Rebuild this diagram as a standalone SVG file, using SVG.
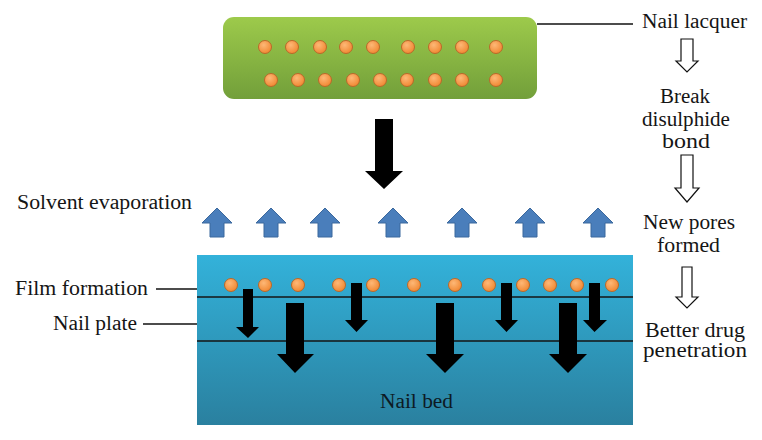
<svg xmlns="http://www.w3.org/2000/svg" width="762" height="440" viewBox="0 0 762 440">
<defs>
<linearGradient id="gGreen" x1="0" y1="0" x2="0" y2="1">
<stop offset="0" stop-color="#9dca4b"/>
<stop offset="1" stop-color="#729f3a"/>
</linearGradient>
<linearGradient id="gBlue" x1="0" y1="0" x2="0" y2="1">
<stop offset="0" stop-color="#33b2da"/>
<stop offset="1" stop-color="#2a809f"/>
</linearGradient>
<radialGradient id="gDot" cx="0.4" cy="0.35" r="0.7">
<stop offset="0" stop-color="#fdb877"/>
<stop offset="1" stop-color="#f0852e"/>
</radialGradient>
<circle id="dot" r="6.5" fill="url(#gDot)" stroke="#b8692a" stroke-width="1"/>
<path id="upArrow" d="M0,-15 L15,0 H7 V14 H-7 V0 H-15 Z" fill="#4a7ebb" stroke="#3b689d" stroke-width="1"/>
</defs>
<style>
.lead{stroke:#111;stroke-width:1.3;fill:none}
.layer{stroke:#141414;stroke-width:1.6}
.hollow{fill:#fff;stroke:#111;stroke-width:1.2}
.black{fill:#000}
</style>
<rect width="762" height="440" fill="#fff"/>

<g id="nail-lacquer-pad">
<rect x="223" y="17" width="314" height="82" rx="11" fill="url(#gGreen)"/>
<use href="#dot" x="265" y="47"/><use href="#dot" x="292" y="47"/><use href="#dot" x="320" y="47"/><use href="#dot" x="346" y="47"/><use href="#dot" x="373" y="47"/><use href="#dot" x="408" y="47"/><use href="#dot" x="435" y="47"/><use href="#dot" x="462" y="47"/><use href="#dot" x="496" y="47"/>
<use href="#dot" x="271" y="80"/><use href="#dot" x="298" y="80"/><use href="#dot" x="325" y="80"/><use href="#dot" x="353" y="80"/><use href="#dot" x="380" y="80"/><use href="#dot" x="407" y="80"/><use href="#dot" x="435" y="80"/><use href="#dot" x="462" y="80"/><use href="#dot" x="496" y="80"/>
</g>

<g id="nail-layers">
<rect x="197" y="255" width="436" height="170" fill="url(#gBlue)"/>
<line class="layer" x1="197" y1="297" x2="633" y2="297"/>
<line class="layer" x1="197" y1="341" x2="633" y2="341"/>
<text x="380" y="408" font-family="'Liberation Serif', serif" font-size="20" fill="#0d1a24" textLength="73" lengthAdjust="spacingAndGlyphs">Nail bed</text>
</g>

<g id="film-dots">
<use href="#dot" x="231" y="285"/><use href="#dot" x="265" y="285"/><use href="#dot" x="298" y="285"/><use href="#dot" x="339" y="285"/><use href="#dot" x="373" y="285"/><use href="#dot" x="414" y="285"/><use href="#dot" x="455" y="285"/><use href="#dot" x="489" y="285"/><use href="#dot" x="523" y="285"/><use href="#dot" x="550" y="285"/><use href="#dot" x="577" y="285"/><use href="#dot" x="612" y="285"/>
</g>

<g id="evaporation-arrows">
<use href="#upArrow" x="217" y="223"/>
<use href="#upArrow" x="271" y="223"/>
<use href="#upArrow" x="325" y="223"/>
<use href="#upArrow" x="393" y="223"/>
<use href="#upArrow" x="462" y="223"/>
<use href="#upArrow" x="530" y="223"/>
<use href="#upArrow" x="598" y="223"/>
</g>

<g id="connectors">
<path class="black" d="M375,119 H393 V171 H403 L384,189 L365,171 H375 Z"/>
<path class="black" d="M243,289 H253 V327 H259 L248,338 L236,327 H243 Z"/>
<path class="black" d="M351,283 H362 V320 H368 L356.5,332 L345,320 H351 Z"/>
<path class="black" d="M501,283 H512 V320 H518 L506.5,332 L495,320 H501 Z"/>
<path class="black" d="M589,283 H600 V320 H607 L594.5,332 L583,320 H589 Z"/>
<path class="black" d="M286,303 H304 V354 H314 L295,373 L277,354 H286 Z"/>
<path class="black" d="M436,303 H454 V354 H464 L445,373 L426,354 H436 Z"/>
<path class="black" d="M559,303 H577 V354 H587 L568,373 L549,354 H559 Z"/>
<path class="hollow" d="M681,39 H693 V61 H698 L687,72 L676,61 H681 Z"/>
<path class="hollow" d="M681,155 H693 V188 H699 L687,202 L675,188 H681 Z"/>
<path class="hollow" d="M682,267 H692 V297 H698 L687,308 L676,297 H682 Z"/>
<line class="lead" x1="537" y1="24" x2="633" y2="24"/>
<line class="lead" x1="156" y1="289" x2="197" y2="289"/>
<line class="lead" x1="143" y1="324" x2="197" y2="324"/>
</g>

<g font-family="'Liberation Serif', serif" font-size="20" fill="#151515">
<g id="label-nail-lacquer"><text x="642" y="28" textLength="105" lengthAdjust="spacingAndGlyphs">Nail lacquer</text></g>
<g id="label-break">
<text x="660" y="103" textLength="50" lengthAdjust="spacingAndGlyphs">Break</text>
<text x="642" y="126" textLength="88" lengthAdjust="spacingAndGlyphs">disulphide</text>
<text x="662" y="148" textLength="48" lengthAdjust="spacingAndGlyphs">bond</text>
</g>
<g id="label-new-pores">
<text x="643" y="229" textLength="92" lengthAdjust="spacingAndGlyphs">New pores</text>
<text x="657" y="252" textLength="63" lengthAdjust="spacingAndGlyphs">formed</text>
</g>
<g id="label-better">
<text x="645" y="337" textLength="100" lengthAdjust="spacingAndGlyphs">Better drug</text>
<text x="643" y="357" textLength="104" lengthAdjust="spacingAndGlyphs">penetration</text>
</g>
<g id="label-solvent"><text x="17" y="209" textLength="175" lengthAdjust="spacingAndGlyphs">Solvent evaporation</text></g>
<g id="label-film"><text x="15" y="295" textLength="133" lengthAdjust="spacingAndGlyphs">Film formation</text></g>
<g id="label-plate"><text x="53" y="330" textLength="84" lengthAdjust="spacingAndGlyphs">Nail plate</text></g>
</g>
</svg>
